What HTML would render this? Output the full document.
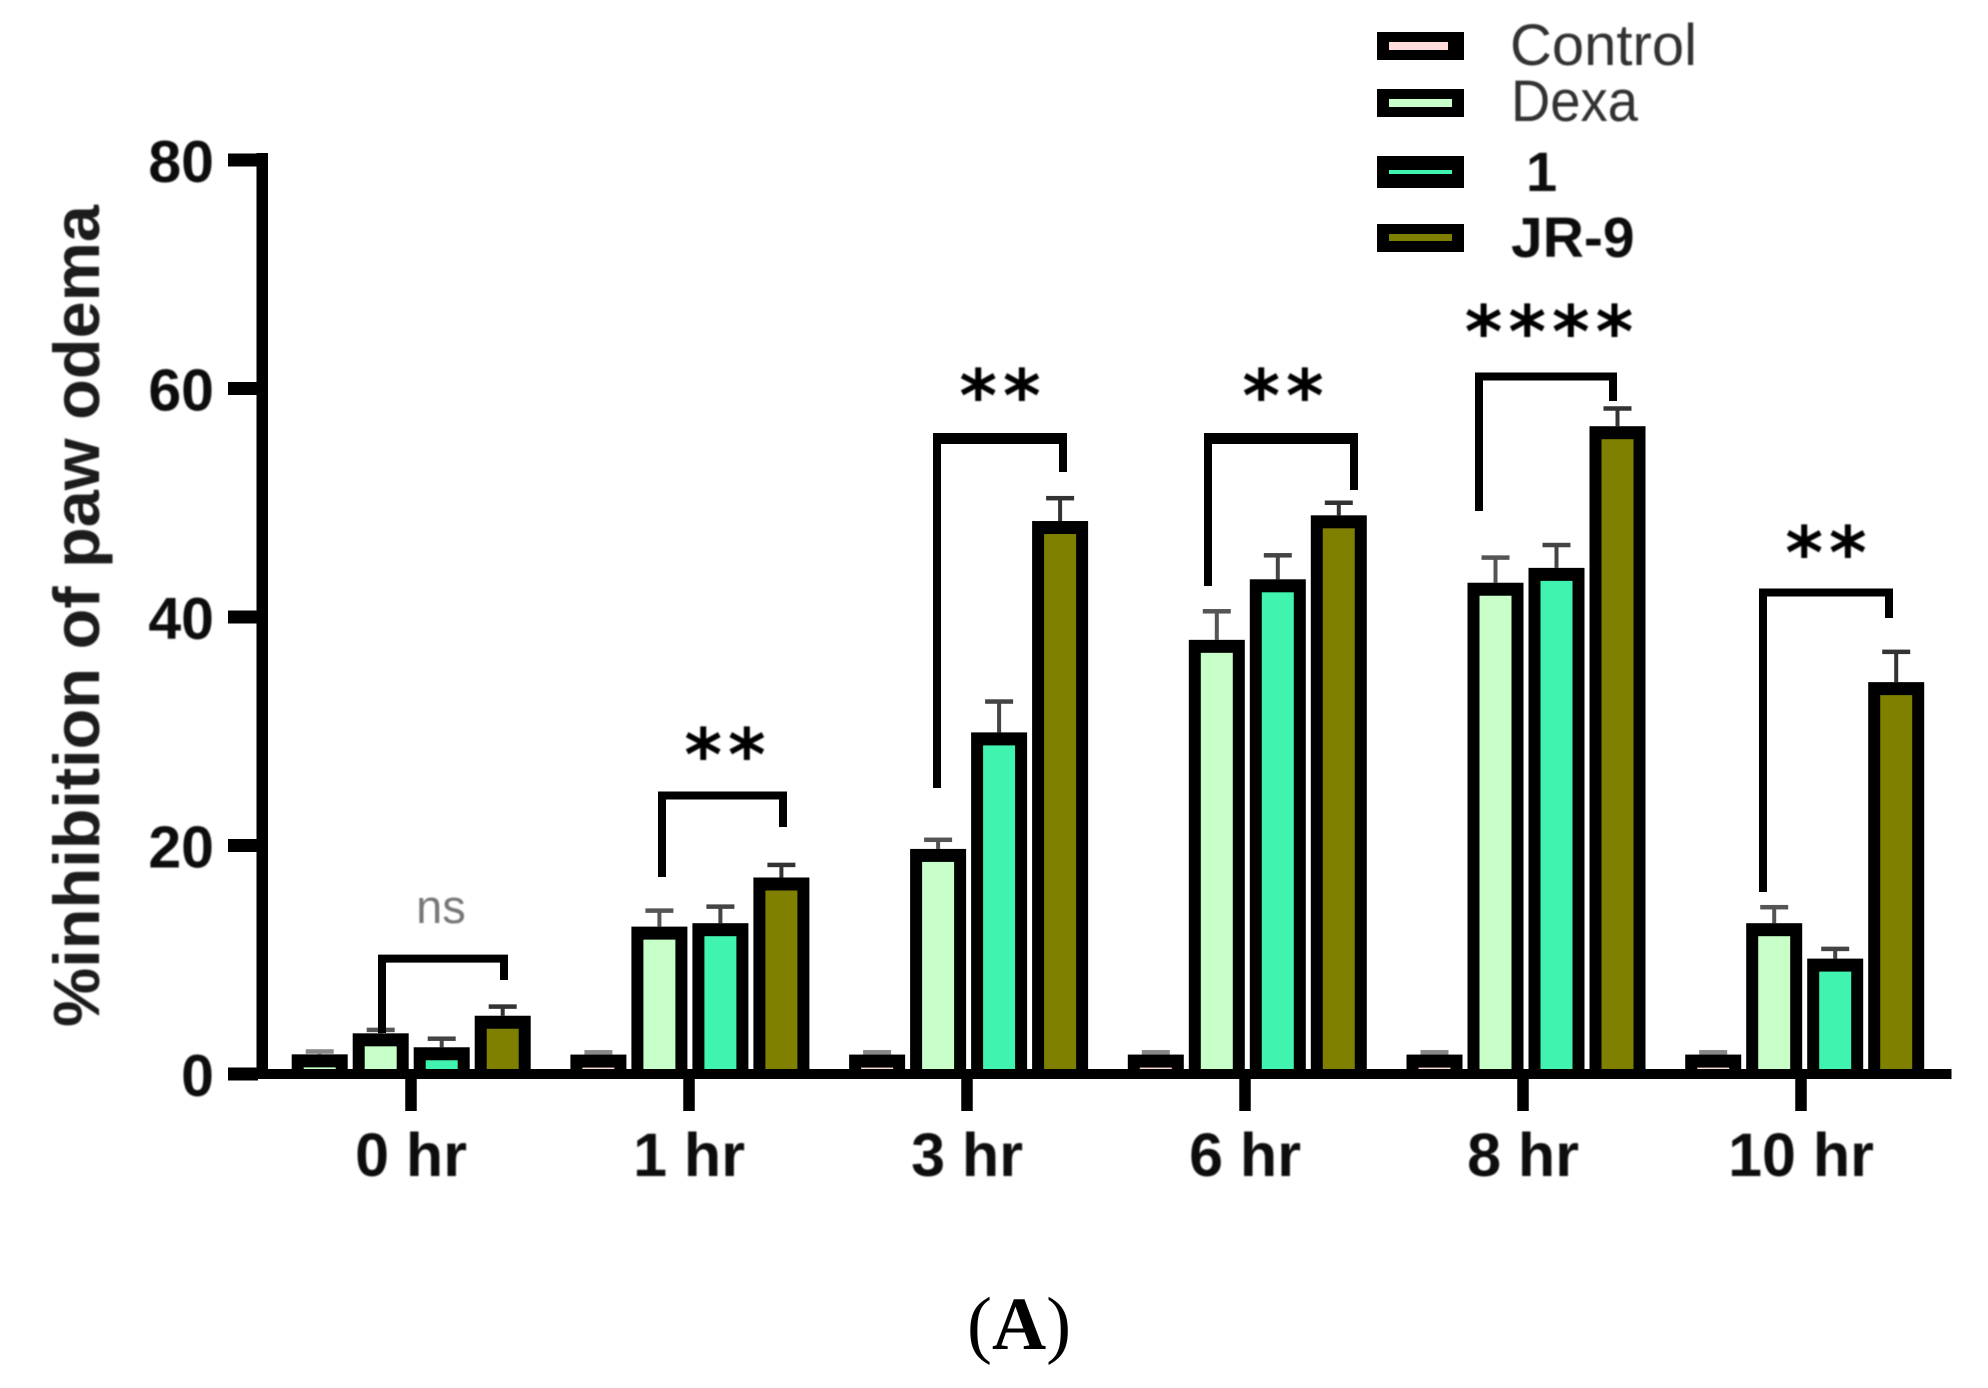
<!DOCTYPE html>
<html lang="en">
<head>
<meta charset="utf-8">
<title>Inhibition of paw odema</title>
<style>
  html, body { margin: 0; padding: 0; background: #fff; }
  body { width: 1988px; height: 1388px; overflow: hidden; }
  svg { display: block; }
  text { font-family: "Liberation Sans", sans-serif; }
  .stars { font-family: "DejaVu Sans", sans-serif; letter-spacing: 6px; }
</style>
</head>
<body>
<svg id="chart" xmlns="http://www.w3.org/2000/svg" width="1988" height="1388" viewBox="0 0 1988 1388">
  <defs>
    <filter id="soft" x="-5%" y="-5%" width="110%" height="110%"><feGaussianBlur stdDeviation="0.7"/></filter>
  </defs>
  <rect x="0" y="0" width="1988" height="1388" fill="#ffffff"/>
  <g id="errors"></g>
  <g id="bars"></g>
  <g id="axes"></g>
  <g id="labels" filter="url(#soft)"></g>

  <text transform="translate(99 616) rotate(-90)" text-anchor="middle" font-size="65" font-weight="bold" fill="#1a1a1a" textLength="822" lengthAdjust="spacingAndGlyphs" filter="url(#soft)">%inhibition of paw odema</text>

  <g fill="none" stroke="#000" stroke-width="8">
    <path d="M382 1033V958.6H504V980"/>
    <path d="M662 877V795.5H783V827"/>
    <g>
      <path d="M937 788V438.5H1063V472"/>
      <rect x="933" y="433" width="134" height="11" fill="#000" stroke="none"/>
    </g>
    <g>
      <path d="M1208 586V438.5H1354V490"/>
      <rect x="1204" y="433" width="154" height="11" fill="#000" stroke="none"/>
    </g>
    <path d="M1479 511V376.5H1613V401"/>
    <path d="M1763 892V592.5H1889V618"/>
  </g>

  <g filter="url(#soft)">
    <text x="441" y="923" text-anchor="middle" font-size="47" fill="#777">ns</text>
    <g font-weight="bold" font-size="72" fill="#000" text-anchor="middle">
      <text class="stars" x="728" y="780">**</text>
      <text class="stars" x="1003" y="421">**</text>
      <text class="stars" x="1286" y="421">**</text>
      <text class="stars" x="1552" y="357">****</text>
      <text class="stars" x="1829" y="578">**</text>
    </g>
  </g>

  <g id="legend">
    <g>
      <rect x="1377" y="32" width="87" height="28" fill="#000"/>
      <rect x="1389" y="42" width="59" height="8" fill="#FFDCDC"/>
      <text x="1510" y="65" font-size="58" fill="#333" filter="url(#soft)">Control</text>
    </g>
    <g>
      <rect x="1377" y="89" width="87" height="28" fill="#000"/>
      <rect x="1389" y="99" width="63" height="8" fill="#C8FFC8"/>
      <text x="1511" y="121" font-size="58" fill="#333" textLength="127" lengthAdjust="spacingAndGlyphs" filter="url(#soft)">Dexa</text>
    </g>
    <g>
      <rect x="1377" y="156" width="87" height="32" fill="#000"/>
      <rect x="1389" y="170" width="63" height="4" fill="#40F4B0"/>
      <text x="1526" y="191" font-size="56" font-weight="bold" fill="#111" filter="url(#soft)">1</text>
    </g>
    <g>
      <rect x="1377" y="224" width="87" height="28" fill="#000"/>
      <rect x="1389" y="234" width="63" height="7" fill="#808000"/>
      <text x="1511" y="257" font-size="57" font-weight="bold" fill="#111" filter="url(#soft)">JR-9</text>
    </g>
  </g>

  <text x="967" y="1349" font-size="75" style="font-family:'Liberation Serif',serif" fill="#000">(<tspan font-weight="bold">A</tspan>)</text>
</svg>

<script>
const categories = ['0 hr', '1 hr', '3 hr', '6 hr', '8 hr', '10 hr'];
const seriesNames = ['control', 'dexa', '1', 'jr-9'];
const controlValues = [1.72, 1.7, 1.7, 1.7, 1.7, 1.7];
const dexaValues = [3.56, 12.9, 19.7, 38.0, 43.0, 13.2];
const compound1Values = [2.34, 13.2, 29.9, 43.3, 44.3, 10.1];
const jr9Values = [5.1, 17.2, 48.4, 48.9, 56.7, 34.3];
const controlErrors = [0.25, 0.2, 0.2, 0.2, 0.2, 0.2];
const dexaErrors = [0.3, 1.4, 0.8, 2.5, 2.2, 1.4];
const compound1Errors = [0.75, 1.45, 2.7, 2.1, 2.0, 0.85];
const jr9Errors = [0.8, 1.1, 2.0, 1.1, 1.55, 2.65];
const yTicks = [0, 20, 40, 60, 80];

const allValues = [controlValues, dexaValues, compound1Values, jr9Values];
const allErrors = [controlErrors, dexaErrors, compound1Errors, jr9Errors];
const seriesFills = ['#FFDCDC', '#C8FFC8', '#40F4B0', '#808000'];
const errorColors = ['#888888', '#555555', '#444444', '#333333'];

const NS = 'http://www.w3.org/2000/svg';

function yScale(v) { return 1074 - v * 11.425; }
function groupLeft(g) { return 291.7 + 278.7 * g; }
function barLeft(g, s) { return groupLeft(g) + 61 * s; }
function tickX(g) { return 411 + 278 * g; }

function shape(tag, attrs, parent) {
  const el = document.createElementNS(NS, tag);
  for (const k in attrs) el.setAttribute(k, attrs[k]);
  parent.appendChild(el);
  return el;
}

const barsLayer = document.getElementById('bars');
const errorsLayer = document.getElementById('errors');
const axesLayer = document.getElementById('axes');
const labelsLayer = document.getElementById('labels');
const barWidth = 56;
const borderWidth = 12;
const topBorder = 13;

categories.forEach(function (cat, g) {
  seriesNames.forEach(function (name, s) {
    const v = allValues[s][g];
    const e = allErrors[s][g];
    const left = barLeft(g, s);
    const top = yScale(v);
    const cx = left + barWidth / 2;
    const capY = yScale(v + e);

    const stem = shape('rect', { x: cx - 2, y: capY, width: 4, height: top - capY, fill: errorColors[s] }, errorsLayer);
    
    
    const cap = shape('rect', { x: cx - 14, y: capY - 2.25, width: 28, height: 4.5, fill: errorColors[s] }, errorsLayer);
    
    

    const outer = shape('rect', { x: left, y: top, width: barWidth, height: yScale(0) - top, fill: '#000' }, barsLayer);
    
    
    const innerTop = top + topBorder;
    const innerFill = (s === 0 && g === 0) ? seriesFills[1] : seriesFills[s];
    const inner = shape('rect', { x: left + borderWidth, y: innerTop, width: barWidth - 2 * borderWidth, height: Math.max(0, yScale(0) - innerTop), fill: innerFill }, barsLayer);
    
    
  });
});

const yAxisLine = shape('rect', { x: 256.5, y: yScale(80) - 7, width: 11.5, height: yScale(0) - yScale(80) + 12, fill: '#000' }, axesLayer);


const xAxisLine = shape('rect', { x: 228, y: yScale(0) - 5, width: 1723.5, height: 10, fill: '#000' }, axesLayer);



yTicks.forEach(function (t) {
  const tick = shape('rect', { x: 228, y: yScale(t) - 6.5, width: 30, height: 13, fill: '#000' }, axesLayer);
  
  
  const label = shape('text', { x: 214, y: yScale(t) + 22, 'text-anchor': 'end', 'font-size': 59, 'font-weight': 'bold', fill: '#111' }, labelsLayer);
  
  
  label.textContent = String(t);
});

categories.forEach(function (cat, g) {
  const tick = shape('rect', { x: tickX(g) - 5.75, y: yScale(0), width: 11.5, height: 37, fill: '#000' }, axesLayer);
  
  
  const label = shape('text', { x: tickX(g), y: 1176, 'text-anchor': 'middle', 'font-size': 61, 'font-weight': 'bold', fill: '#111' }, labelsLayer);
  
  
  label.textContent = cat;
});
</script>
</body>
</html>
